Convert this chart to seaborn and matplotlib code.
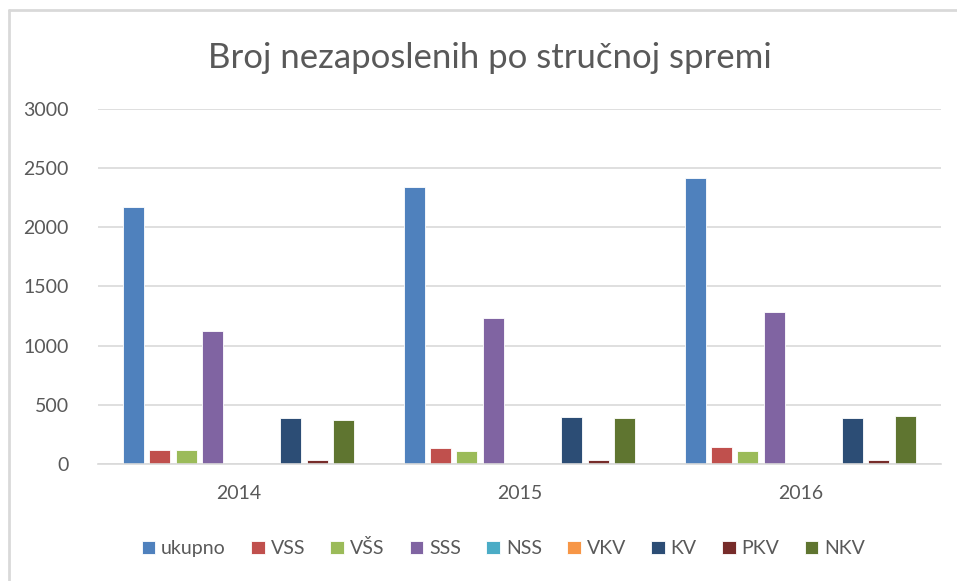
import matplotlib
matplotlib.use('Agg')
import matplotlib.pyplot as plt
from matplotlib.lines import Line2D
import pandas as pd
import seaborn as sns

# podaci ocitani sa slike
godine = ['2014', '2015', '2016']
serije = ['ukupno', 'VSS', 'VŠS', 'SSS', 'NSS', 'VKV', 'KV', 'PKV', 'NKV']
ukupno = [2175, 2340, 2415]
vss = [115, 135, 145]
vss2 = [115, 110, 110]
sss = [1125, 1235, 1285]
nss = [0, 0, 0]
vkv = [0, 0, 0]
kv = [385, 395, 385]
pkv = [30, 30, 30]
nkv = [375, 385, 405]
boje = ['#4F81BD', '#C0504D', '#9BBB59', '#8064A2', '#4BACC6',
        '#F79646', '#2C4D75', '#772C2A', '#5F7530']

vrijednosti = [ukupno, vss, vss2, sss, nss, vkv, kv, pkv, nkv]
rows = []
for s, vals in zip(serije, vrijednosti):
    for g, v in zip(godine, vals):
        rows.append({'godina': g, 'sprema': s, 'broj': v})
df = pd.DataFrame(rows)

sns.set_style('white')
plt.rcParams['font.family'] = ['Lato', 'DejaVu Sans']
siva = '#595959'

fig = plt.figure(figsize=(9.57, 5.81), dpi=100)
ax = fig.add_axes([0.1024, 0.2014, 0.8806, 0.611])

sns.barplot(data=df, x='godina', y='broj', hue='sprema', hue_order=serije,
            order=godine, palette=boje, saturation=1, width=0.84, gap=0.2,
            edgecolor='white', linewidth=0.6, ax=ax)

ax.set_ylim(0, 3000)
ax.set_yticks(range(0, 3001, 500))
ax.grid(axis='y', color='#D9D9D9', linewidth=1.2)
ax.set_axisbelow(True)
for sp in ['top', 'right', 'left']:
    ax.spines[sp].set_visible(False)
ax.spines['bottom'].set_color('#D9D9D9')
ax.spines['bottom'].set_linewidth(1.2)
ax.tick_params(axis='both', length=0, labelsize=14, labelcolor=siva)
ax.tick_params(axis='y', pad=21)
ax.tick_params(axis='x', pad=15)
ax.set_xlabel('')
ax.set_ylabel('')

fig.text(0.512, 0.9, 'Broj nezaposlenih po stručnoj spremi', ha='center',
         va='center', fontsize=25, color=siva)

ax.legend(loc='center', bbox_to_anchor=(0.481, -0.237), ncol=9, frameon=False,
          fontsize=14, labelcolor=siva, handlelength=0.7, handleheight=0.7,
          handletextpad=0.3, columnspacing=1.3)

# okvir grafikona
fig.add_artist(Line2D([9 / 957, 9 / 957], [0, 1 - 10 / 581],
                      transform=fig.transFigure, color='#D9D9D9', lw=2))
fig.add_artist(Line2D([9 / 957, 1], [1 - 10 / 581, 1 - 10 / 581],
                      transform=fig.transFigure, color='#D9D9D9', lw=2))

fig.savefig('out.png', dpi=100)
